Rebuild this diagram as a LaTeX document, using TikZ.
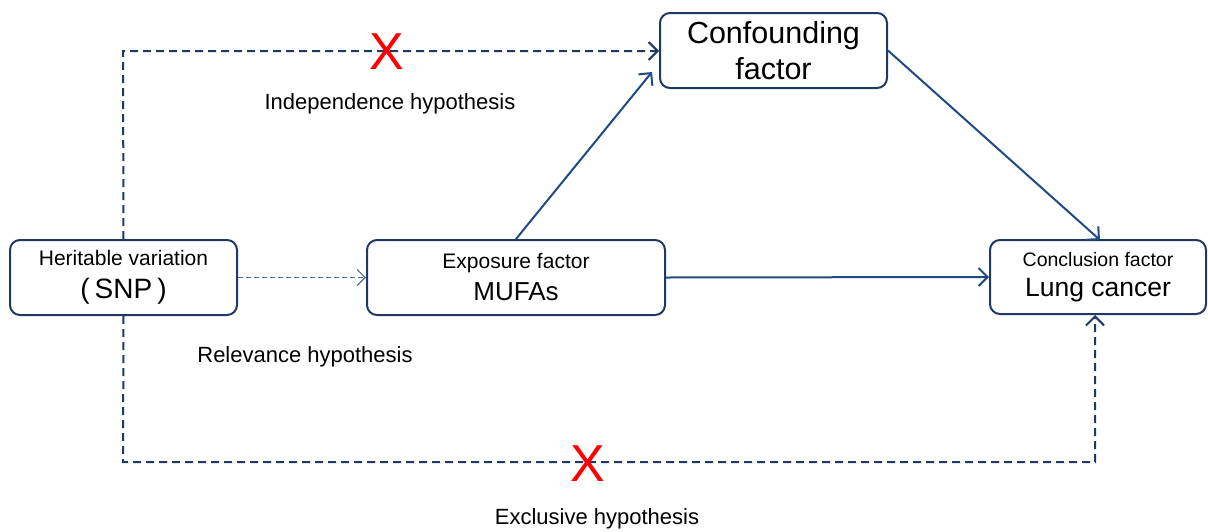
\documentclass[tikz,border=0pt]{standalone}
\usepackage{fontspec}
\setmainfont{Liberation Sans}
\usetikzlibrary{arrows.meta}
\definecolor{navy}{HTML}{1F3864}
\definecolor{arrowblue}{HTML}{1F4A86}
\definecolor{lightnavy}{HTML}{4A6FA5}
\begin{document}
\begin{tikzpicture}[x=1pt,y=-1pt,
  box/.style={draw=navy,line width=2pt,rounded corners=10pt,fill=white,inner sep=0pt,align=center},
  conn/.style={draw=arrowblue,line width=2pt,-{Straight Barb[length=9pt,width=18pt,line width=2pt]}},
  dconn/.style={conn,draw=navy,dash pattern=on 8pt off 5pt},
  lab/.style={font=\fontsize{22}{26}\selectfont,inner sep=0pt},
  cross/.style={text=red,font=\fontsize{52}{52}\selectfont,inner sep=0pt}]
\useasboundingbox (0,0) rectangle (1208,531);
\node[box,minimum width=227pt,minimum height=75pt,font=\fontsize{21}{33}\selectfont] (snp) at (123.5,277.5)
  {Heritable variation\\{\fontsize{28}{33}\selectfont (\hspace{5pt}SNP\hspace{5pt})}};
\node[box,minimum width=298pt,minimum height=75pt,font=\fontsize{21}{32}\selectfont] (exp) at (516,277.5)
  {Exposure factor\\{\fontsize{26}{32}\selectfont MUFAs}};
\node[box,minimum width=227pt,minimum height=75pt,font=\fontsize{30.5}{36}\selectfont] (conf) at (773.5,50.5)
  {Confounding\\factor};
\node[box,minimum width=216pt,minimum height=74pt,font=\fontsize{19.5}{30}\selectfont] (lung) at (1098,277)
  {Conclusion factor\\{\fontsize{26.5}{30}\selectfont Lung cancer}};
\coordinate (c1) at (123,51);
\coordinate (c2) at (123,462);
\coordinate (c3) at (1095,462);
\draw[dconn] (snp.north) -- (c1) -- (conf.west |- c1);
\draw[conn,draw=lightnavy,line width=1.2pt,dash pattern=on 5pt off 3pt,-{Straight Barb[length=8pt,width=16pt,line width=1.2pt]}] (snp.east) -- (exp.west);
\draw[dconn] (snp.south) -- (c2) -- (c3) -- (c3 |- lung.south);
\draw[conn] (exp.north) -- (652,72);
\draw[conn] (conf.east) -- (1100,240);
\draw[conn] (exp.east) -- (lung.west);
\node[cross] (x1) at (387,52) {X};
\node[cross] (x2) at (588,464) {X};
\node[lab] (ih) at (390,104) {Independence hypothesis};
\node[lab] (rh) at (305,357) {Relevance hypothesis};
\node[lab] (eh) at (597,519) {Exclusive hypothesis};
\end{tikzpicture}
\end{document}
